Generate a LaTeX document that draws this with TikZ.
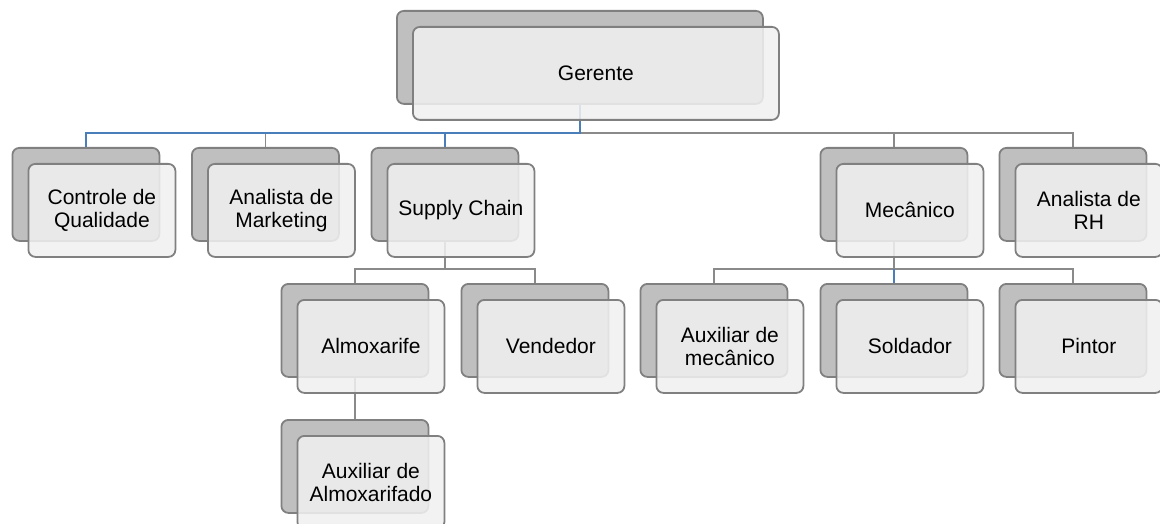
\documentclass[tikz,border=0pt]{standalone}
\usepackage{fontspec}
\setmainfont{Liberation Sans}
\pgfdeclarelayer{bg}
\pgfsetlayers{bg,main}

\definecolor{boxline}{RGB}{128,128,128}
\definecolor{backfill}{RGB}{191,191,191}
\definecolor{frontfill}{RGB}{240,240,240}
\definecolor{linkgray}{RGB}{138,138,138}
\definecolor{linkblue}{RGB}{74,126,187}

\tikzset{
  backbox/.style={draw=boxline, line width=1.8pt, fill=backfill,
    rounded corners=7pt, minimum height=93pt, inner sep=0pt},
  frontbox/.style={draw=boxline, line width=1.8pt, fill=frontfill,
    fill opacity=0.87, text opacity=1, rounded corners=7pt,
    minimum height=93pt, inner sep=0pt, align=center,
    font=\fontsize{21}{23.5}\selectfont},
  graylink/.style={draw=linkgray, line width=1.8pt},
  bluelink/.style={draw=linkblue, line width=1.8pt},
}

% one position: a shadow card and the labelled card offset over it
\newcommand\orgunit[5]{%
  \node[backbox, minimum width=#4, anchor=north west] (#1-b) at (#2,#3) {};
  \node[frontbox, minimum width=#4, anchor=north west] (#1)
    at ([xshift=16pt,yshift=-16pt]#1-b.north west) {#5};
}

\begin{document}
\begin{tikzpicture}[x=1pt,y=-1pt]
\useasboundingbox (0,0) rectangle (1160,524);

% top level
\orgunit{ger}{396}{10}{366pt}{Gerente}

% first level
\orgunit{cq}{11.5}{147}{147pt}{Controle de\\Qualidade}
\orgunit{mk}{191}{147}{147pt}{Analista de\\Marketing}
\orgunit{sc}{370.5}{147}{147pt}{Supply Chain}
\orgunit{me}{819.5}{147}{147pt}{Mecânico}
\orgunit{rh}{998.5}{147}{147pt}{Analista de\\RH}

% second level
\orgunit{al}{280.5}{283}{147pt}{Almoxarife}
\orgunit{ve}{460.5}{283}{147pt}{Vendedor}
\orgunit{am}{639.5}{283}{147pt}{Auxiliar de\\mecânico}
\orgunit{so}{819.5}{283}{147pt}{Soldador}
\orgunit{pi}{998.5}{283}{147pt}{Pintor}

% third level
\orgunit{aa}{280.5}{419}{147pt}{Auxiliar de\\Almoxarifado}

% bus heights
\coordinate (bus1) at (0,133);
\coordinate (bus2) at (0,269);

\begin{pgfonlayer}{bg}
  % Gerente to first level
  \draw[graylink] (ger-b.south |- bus1) -| (rh-b.north);
  \draw[graylink] (ger-b.south |- bus1) -| (me-b.north);
  \draw[graylink] (mk-b.north |- bus1) -- (mk-b.north);
  \draw[bluelink] (ger-b.south) -- (ger-b.south |- bus1) -| (cq-b.north);
  \draw[bluelink] (sc-b.north |- bus1) -- (sc-b.north);
  % Supply Chain branch
  \draw[graylink] (sc-b.south) -- (sc-b.south |- bus2);
  \draw[graylink] (al-b.north) |- (ve-b.north |- bus2) -- (ve-b.north);
  \draw[graylink] (al-b.south) -- (aa-b.north);
  % Mecânico branch
  \draw[graylink] (me-b.south) -- (me-b.south |- bus2);
  \draw[graylink] (am-b.north) |- (pi-b.north |- bus2) -- (pi-b.north);
  \draw[bluelink] (so-b.north |- bus2) -- (so-b.north);
\end{pgfonlayer}
\end{tikzpicture}
\end{document}
